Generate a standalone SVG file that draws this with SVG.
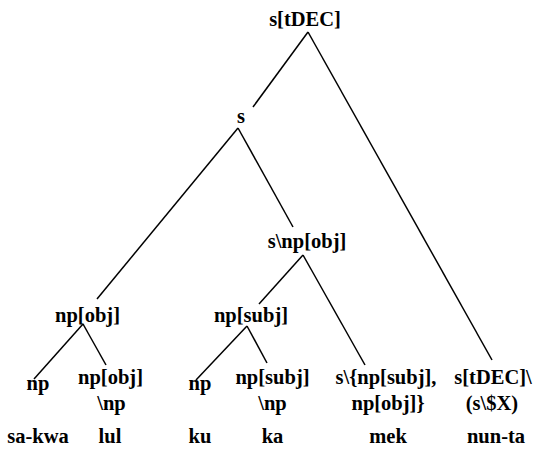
<svg xmlns="http://www.w3.org/2000/svg" width="536" height="452" viewBox="0 0 536 452">
<style>
text{font-family:"Liberation Serif","Times New Roman",serif;font-weight:bold;font-size:20.5px;fill:#000;text-anchor:middle}
.e{stroke:#000;stroke-width:1.5;fill:none}
</style>
<rect width="536" height="452" fill="#fff"/>
<g id="connectors">
<line class="e" x1="308" y1="32" x2="253" y2="107"/>
<line class="e" x1="308" y1="32" x2="492" y2="360"/>
<line class="e" x1="238" y1="128" x2="97" y2="299"/>
<line class="e" x1="238" y1="128" x2="293" y2="227"/>
<line class="e" x1="303" y1="255" x2="259" y2="304"/>
<line class="e" x1="303" y1="255" x2="365" y2="365"/>
<line class="e" x1="83" y1="324" x2="34" y2="379"/>
<line class="e" x1="83" y1="324" x2="106" y2="365"/>
<line class="e" x1="247" y1="326" x2="196" y2="380"/>
<line class="e" x1="247" y1="326" x2="267" y2="363"/>
</g>
<g id="n-root"><text x="305" y="26">s[tDEC]</text></g>
<g id="n-s"><text x="241" y="123">s</text></g>
<g id="n-snpobj"><text x="307" y="248">s\np[obj]</text></g>
<g id="n-npobj"><text x="87.5" y="322">np[obj]</text></g>
<g id="n-npsubj"><text x="251" y="322">np[subj]</text></g>
<g id="n-np1"><text x="38" y="390">np</text></g>
<g id="n-npobjnp"><text x="110.5" y="384">np[obj]</text><text x="111.5" y="410">\np</text></g>
<g id="n-np2"><text x="200" y="390">np</text></g>
<g id="n-npsubjnp"><text x="272.5" y="384">np[subj]</text><text x="272.5" y="410">\np</text></g>
<g id="n-mek"><text x="386" y="384">s\{np[subj],</text><text x="388" y="410">np[obj]}</text></g>
<g id="n-nunta"><text x="493" y="384">s[tDEC]\</text><text x="492" y="410">(s\$X)</text></g>
<g id="words">
<text x="38" y="443">sa-kwa</text>
<text x="110" y="443">lul</text>
<text x="200" y="443">ku</text>
<text x="272.5" y="443">ka</text>
<text x="388" y="443">mek</text>
<text x="496" y="443">nun-ta</text>
</g>
</svg>
